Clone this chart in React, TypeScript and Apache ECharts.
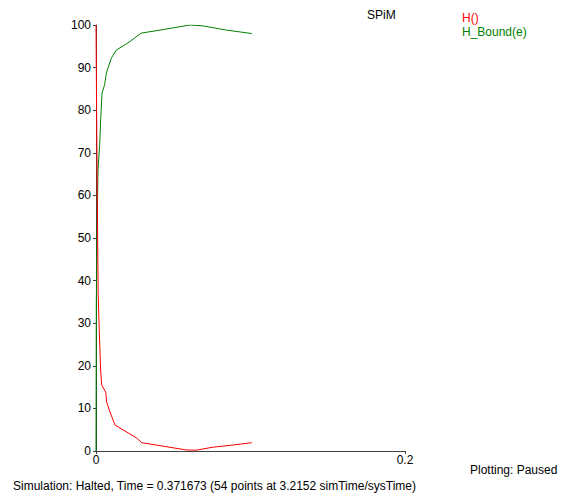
import React, { useEffect, useRef } from "react";
import * as echarts from "echarts";

const seriesNames = ["H()", "H_Bound(e)"];
const seriesColors = ["#ff0000", "#008000"];

const hFree: [number, number][] = [
  [0, 100], [0.0004, 80], [0.0008, 60], [0.0014, 37], [0.0021, 28.4],
  [0.003, 19], [0.0037, 15.5], [0.0063, 13.8], [0.0069, 11.5], [0.009, 9.2],
  [0.0123, 6.1], [0.0155, 5.4], [0.0263, 3.05], [0.0296, 1.95], [0.0458, 1.0],
  [0.0587, 0.23], [0.065, 0.2], [0.0757, 0.9], [0.0887, 1.4], [0.1008, 1.95],
];

const hBound: [number, number][] = [
  [0, 0], [0.0002, 35], [0.0008, 55], [0.0013, 66], [0.0024, 72],
  [0.003, 77.7], [0.0039, 84], [0.0056, 86], [0.0067, 88.7], [0.0099, 92.2],
  [0.0131, 94.1], [0.0207, 95.8], [0.0293, 98.1], [0.0414, 98.8], [0.0608, 100],
  [0.0691, 99.8], [0.0845, 98.8], [0.1008, 98],
];

const titleText = "SPiM";
const statusRight = "Plotting: Paused";
const statusBottom =
  "Simulation: Halted, Time = 0.371673 (54 points at 3.2152 simTime/sysTime)";

const FONT = "Arial, 'Liberation Sans', sans-serif";

export default function App() {
  const ref = useRef<HTMLDivElement>(null);
  useEffect(() => {
    if (!ref.current) return;
    const chart = echarts.init(ref.current, undefined, { renderer: "svg" });
    chart.setOption({
      animation: false,
      backgroundColor: "#ffffff",
      textStyle: { fontFamily: FONT },
      grid: { left: 96, top: 25, width: 309, height: 426, containLabel: false },
      xAxis: {
        type: "value",
        min: 0,
        max: 0.2,
        interval: 0.2,
        splitLine: { show: false },
        axisLine: { lineStyle: { color: "#404040", width: 1 } },
        axisTick: { show: true, length: 3, lineStyle: { color: "#404040" } },
        axisLabel: { color: "#000", fontSize: 12, fontFamily: FONT, margin: 3 },
      },
      yAxis: {
        type: "value",
        min: 0,
        max: 100,
        interval: 10,
        splitLine: { show: false },
        axisLine: { show: true, lineStyle: { color: "#404040", width: 1 } },
        axisTick: { show: true, length: 3, lineStyle: { color: "#404040" } },
        axisLabel: { color: "#000", fontSize: 12, fontFamily: FONT, margin: 5 },
      },
      legend: {
        orient: "vertical",
        left: 452,
        top: 7,
        icon: "none",
        itemWidth: 0,
        itemHeight: 10,
        itemGap: 2,
        selectedMode: false,
        data: seriesNames.map((n, i) => ({
          name: n,
          textStyle: { color: seriesColors[i], fontSize: 12, fontFamily: FONT },
        })),
      },
      graphic: [
        {
          type: "text",
          left: 367,
          top: 9,
          style: { text: titleText, fill: "#000", font: `12px ${FONT}` },
        },
        {
          type: "text",
          left: 470,
          top: 464,
          style: { text: statusRight, fill: "#000", font: `12px ${FONT}` },
        },
        {
          type: "text",
          left: 13,
          top: 480,
          style: { text: statusBottom, fill: "#000", font: `12px ${FONT}` },
        },
      ],
      series: [
        {
          name: seriesNames[1],
          type: "line",
          data: hBound,
          showSymbol: false,
          lineStyle: { color: seriesColors[1], width: 1 },
          itemStyle: { color: seriesColors[1] },
        },
        {
          name: seriesNames[0],
          type: "line",
          data: hFree,
          showSymbol: false,
          lineStyle: { color: seriesColors[0], width: 1 },
          itemStyle: { color: seriesColors[0] },
        },
      ],
    });
    return () => chart.dispose();
  }, []);
  return (
    <div
      ref={ref}
      style={{ position: "fixed", left: 0, top: 0, width: 567, height: 497, background: "#fff" }}
    />
  );
}
